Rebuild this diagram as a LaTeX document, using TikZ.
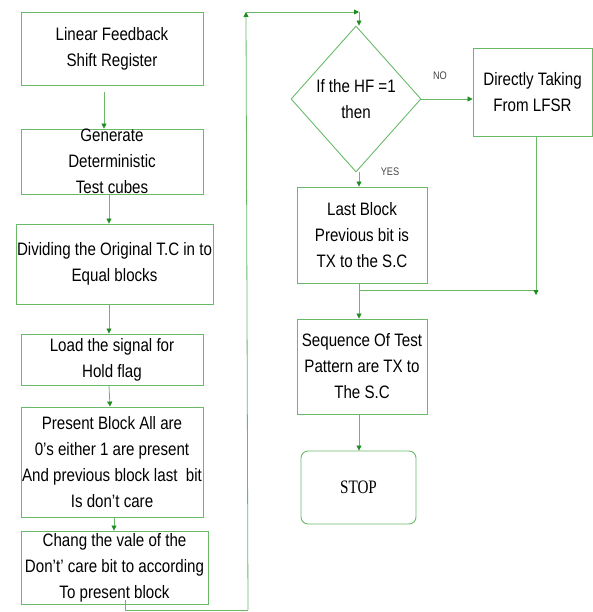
\documentclass[tikz,border=0pt]{standalone}
\usepackage{fontspec}
\setmainfont{Liberation Sans}[FakeStretch=0.84]
\newfontfamily\stopfont{Liberation Serif}[FakeStretch=0.8]
\usetikzlibrary{arrows.meta,shapes.geometric,calc}

\definecolor{boxgreen}{RGB}{105,185,105}
\definecolor{tipgreen}{RGB}{30,140,30}
\definecolor{labelgray}{RGB}{70,70,70}

\begin{document}
\begin{tikzpicture}[x=1pt, y=-1pt,
    box/.style={draw=boxgreen, line width=0.9pt, inner sep=0pt, align=center,
        font=\fontsize{18}{26}\selectfont},
    decision/.style={box, diamond},
    line/.style={draw=boxgreen, line width=0.8pt},
    flow/.style={line, -{Triangle[length=5pt, width=5pt, color=tipgreen]}},
    tag/.style={font=\fontsize{11}{13}\selectfont, text=labelgray}]

    \useasboundingbox (0,0) rectangle (593,612);

    % --- Left column ---
    \node[box, minimum width=182pt, minimum height=73pt] (lfsr) at (112,48.5)
        {Linear Feedback\\Shift Register};
    \node[box, minimum width=182pt, minimum height=65pt] (gen) at (112,161.5)
        {Generate\\Deterministic\\Test cubes};
    \node[box, minimum width=197pt, minimum height=80pt] (divide) at (114.5,264)
        {Dividing the Original T.C in to\\Equal blocks};
    \node[box, minimum width=182pt, minimum height=51pt] (load) at (112,359.5)
        {Load the signal for\\Hold flag};
    \node[box, minimum width=182pt, minimum height=110pt] (present) at (112,462)
        {Present Block All are\\0's either 1 are present\\And previous block last\ \ bit\\Is don't care};
    \node[box, minimum width=187pt, minimum height=73pt] (chang) at (114.5,567.5)
        {Chang the vale of the\\Don't' care bit to according\\To present block};

    % --- Right column ---
    \node[decision, minimum width=130pt, minimum height=146pt] (hf) at (356,99)
        {If the HF =1\\then};
    \node[box, minimum width=119pt, minimum height=88pt] (direct) at (532.5,92)
        {Directly Taking\\From LFSR};
    \node[box, minimum width=130pt, minimum height=96pt] (last) at (362,235)
        {Last Block\\Previous bit is\\TX to the S.C};
    \node[box, minimum width=130pt, minimum height=95pt] (seq) at (362,366.5)
        {Sequence Of Test\\Pattern are TX to\\The S.C};
    \node[box, rounded corners=7pt, minimum width=115pt, minimum height=73pt,
        font=\stopfont\fontsize{19}{22}\selectfont] (stop) at (358.5,487.5) {STOP};

    % --- Branch labels ---
    \node[tag] (no) at (440,76) {NO};
    \node[tag] (yes) at (390,172) {YES};

    % --- Key Coordinates ---
    \coordinate (loopbottom) at (248,610);
    \coordinate (looptop) at (246,12);
    \coordinate (loopright) at (359,12);
    \coordinate (join) at (359,290);
    \coordinate (merge) at (536,295);

    % --- Left column flow ---
    \draw[flow] ([xshift=-8pt, yshift=-7pt]lfsr.south) -- ([xshift=-8pt]gen.north);
    \draw[flow] ([xshift=-3pt]gen.south) -- ([xshift=-3pt]gen.south |- divide.north);
    \draw[flow] ([xshift=-5.5pt]divide.south) -- ([xshift=-3pt]load.north);
    \draw[flow] ([xshift=-3pt]load.south) -- ([xshift=-2pt]present.north);
    \draw[flow] ([xshift=2pt]present.south) -- ([xshift=-0.5pt]chang.north);

    % --- Feedback loop to the decision ---
    \draw[line] ([xshift=10.5pt, yshift=4pt]chang.south) |- (loopbottom);
    \draw[flow] (loopbottom) -- (looptop);
    \draw[flow] (looptop) -- (loopright);
    \draw[flow] (loopright) -- (loopright |- hf.north);

    % --- Decision branches ---
    \draw[flow] (hf.east) -- (hf.east -| direct.west);
    \draw[flow] ([xshift=3pt]hf.south) -- ([xshift=3pt]hf.south |- last.north);

    % --- Merge and finish ---
    \draw[line] (last.south -| join) -- (join) -- (join -| merge);
    \draw[flow] (direct.south -| merge) -- (merge);
    \draw[flow] (join) -- (join |- seq.north);
    \draw[flow] (seq.south -| join) -- (join |- stop.north);
\end{tikzpicture}
\end{document}
